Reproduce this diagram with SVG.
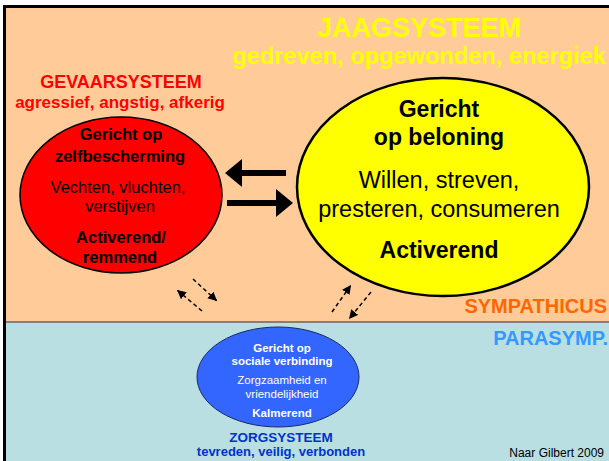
<svg xmlns="http://www.w3.org/2000/svg" width="609" height="461" viewBox="0 0 609 461">
<style>
text{font-family:"Liberation Sans",Arial,sans-serif;text-anchor:middle}
.b{font-weight:bold}
.dash{stroke:#000;stroke-width:1.5;stroke-dasharray:4 3;fill:none}
</style>
<defs>
<marker id="ah" markerUnits="userSpaceOnUse" markerWidth="10" markerHeight="10" refX="9" refY="4.5" orient="auto">
<path d="M0,0 L9,4.5 L0,9 z" fill="#000"/>
</marker>
</defs>
<rect x="0" y="0" width="609" height="461" fill="#fff"/>
<rect x="6" y="8" width="603" height="314" fill="#FFCC99"/>
<rect x="6" y="322" width="603" height="139" fill="#B9DFE2"/>
<rect x="6" y="321" width="603" height="2" fill="#808080"/>
<rect x="3" y="5" width="606" height="3" fill="#000"/>
<rect x="3" y="5" width="3" height="456" fill="#000"/>

<g id="labels">
<text x="419" y="37" class="b" font-size="27" fill="#FFFF00">JAAGSYSTEEM</text>
<text x="419" y="64" class="b" font-size="23.6" fill="#FFFF00">gedreven, opgewonden, energiek</text>
<text x="121" y="88" class="b" font-size="18" fill="#FF0000">GEVAARSYSTEEM</text>
<text x="120" y="108" class="b" font-size="17" fill="#FF0000">agressief, angstig, afkerig</text>
<text x="607" y="313" class="b" font-size="20" fill="#FF6600" style="text-anchor:end">SYMPATHICUS</text>
<text x="608" y="345" class="b" font-size="20" fill="#3399FF" style="text-anchor:end">PARASYMP.</text>
<text x="281" y="442" class="b" font-size="13.5" fill="#0033CC">ZORGSYSTEEM</text>
<text x="281" y="456" class="b" font-size="13" fill="#0033CC">tevreden, veilig, verbonden</text>
<text x="604" y="457" font-size="12" fill="#000" style="text-anchor:end">Naar Gilbert 2009</text>
</g>

<g id="gevaar">
<ellipse cx="121" cy="195" rx="101" ry="78" fill="#FF0000" stroke="#000" stroke-width="1.5"/>
<text x="121" y="140" class="b" font-size="16.5">Gericht op</text>
<text x="120" y="162" class="b" font-size="16.5">zelfbescherming</text>
<text x="118" y="193" font-size="16.5">Vechten, vluchten,</text>
<text x="120" y="212" font-size="16.5">verstijven</text>
<text x="121" y="243" class="b" font-size="16.5">Activerend/</text>
<text x="120" y="263" class="b" font-size="16.5">remmend</text>
</g>

<g id="jaag">
<ellipse cx="443" cy="187" rx="146" ry="109" fill="#FFFF00" stroke="#000" stroke-width="2.5"/>
<text x="439" y="117" class="b" font-size="23">Gericht</text>
<text x="439" y="145" class="b" font-size="23">op beloning</text>
<text x="439" y="188" font-size="23.5">Willen, streven,</text>
<text x="439" y="217" font-size="23.5">presteren, consumeren</text>
<text x="439" y="258" class="b" font-size="23">Activerend</text>
</g>

<g id="zorg">
<ellipse cx="278" cy="377" rx="81" ry="50" fill="#3366FF" stroke="#1a2a66" stroke-width="1"/>
<text x="282" y="352" class="b" font-size="11.5" fill="#fff">Gericht op</text>
<text x="282" y="365" class="b" font-size="11.5" fill="#fff">sociale verbinding</text>
<text x="282" y="384" font-size="11.5" fill="#fff">Zorgzaamheid en</text>
<text x="282" y="398" font-size="11.5" fill="#fff">vriendelijkheid</text>
<text x="282" y="417" class="b" font-size="11.5" fill="#fff">Kalmerend</text>
</g>

<g id="connectors">
<rect x="241" y="170" width="45" height="6" fill="#000"/>
<polygon points="225,173 242,159 242,187" fill="#000"/>
<rect x="227" y="200" width="50" height="6" fill="#000"/>
<polygon points="293,203 276,189 276,217" fill="#000"/>
<line class="dash" x1="193" y1="279" x2="217" y2="301" marker-end="url(#ah)"/>
<line class="dash" x1="202" y1="311" x2="177" y2="290" marker-end="url(#ah)"/>
<line class="dash" x1="332" y1="312" x2="351" y2="285" marker-end="url(#ah)"/>
<line class="dash" x1="371" y1="292" x2="349" y2="319" marker-end="url(#ah)"/>
</g>
</svg>
